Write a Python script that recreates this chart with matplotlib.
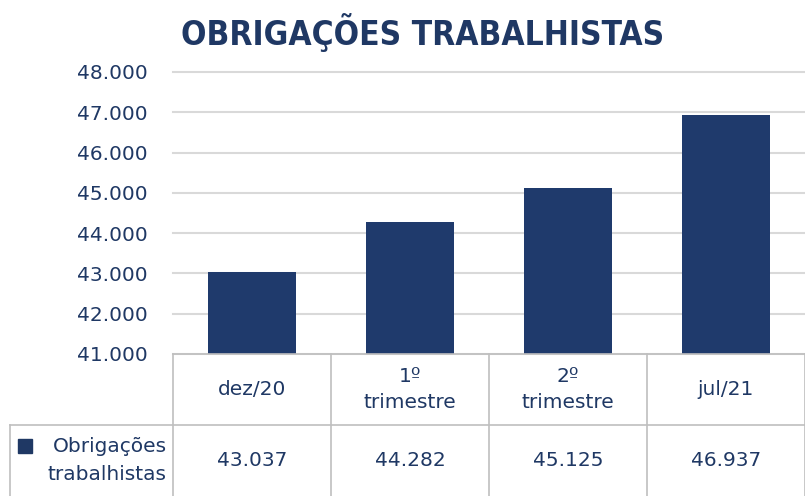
import matplotlib
matplotlib.use("Agg")
import matplotlib.pyplot as plt
from matplotlib.patches import Rectangle

# data
categories = ["dez/20", "1º\ntrimestre", "2º\ntrimestre", "jul/21"]
values = [43.037, 44.282, 45.125, 46.937]
value_labels = ["43.037", "44.282", "45.125", "46.937"]
series_name = "Obrigações\ntrabalhistas"
title = "OBRIGAÇÕES TRABALHISTAS"
yticks = [41, 42, 43, 44, 45, 46, 47, 48]

navy = "#1F3864"
bar_col = "#1F3A6C"
grid_col = "#D9D9D9"
border_col = "#BFBFBF"
fs = 14.5

W, H = 805, 496
fig = plt.figure(figsize=(W / 100, H / 100), dpi=100)

# main plot area (pixel coords converted to figure fractions)
x0, x1 = 173, 805
y_top, y_bot = 72, 354
ax = fig.add_axes([x0 / W, 1 - y_bot / H, (x1 - x0) / W, (y_bot - y_top) / H])
xs = list(range(len(categories)))
ax.bar(xs, values, width=0.56, color=bar_col, zorder=3)
ax.set_xlim(-0.5, len(categories) - 0.5)
ax.set_ylim(41, 48)
ax.set_yticks(yticks)
ax.set_yticklabels([f"{v}.000" for v in yticks], color=navy, fontsize=fs)
ax.tick_params(axis="y", length=0, pad=18)
ax.set_xticks([])
ax.grid(axis="y", color=grid_col, linewidth=1.5, zorder=0)
for gl in ax.get_ygridlines():
    gl.set_clip_on(False)
for s in ax.spines.values():
    s.set_visible(False)

fig.text(423 / W, 1 - 32 / H, title, ha="center", va="center",
         fontsize=24, fontweight="bold", fontstretch="condensed", color=navy,
         family="DejaVu Sans")

# data table below the plot
tax = fig.add_axes([x0 / W, 0, (x1 - x0) / W, (H - y_bot) / H])
tax.set_xlim(-0.5, len(categories) - 0.5)
tax.set_ylim(0, 2)
tax.axis("off")
col_w = (x1 - x0) / len(categories)
left_edge = -0.5 - (x0 - 10) / col_w
lk = dict(color=border_col, linewidth=1.2, clip_on=False)
tax.plot([-0.5, len(categories) - 0.5], [2, 2], **lk)
tax.plot([left_edge, len(categories) - 0.5], [1, 1], **lk)
tax.plot([left_edge, left_edge], [0, 1], **lk)
for i in range(len(categories) + 1):
    tax.plot([i - 0.5, i - 0.5], [0, 2], **lk)

for i, (c, v) in enumerate(zip(categories, value_labels)):
    tax.text(i, 1.5, c, ha="center", va="center", fontsize=fs, color=navy,
             linespacing=1.5)
    tax.text(i, 0.5, v, ha="center", va="center", fontsize=fs, color=navy)

tax.add_patch(Rectangle((left_edge + 0.05, 0.6), 0.09, 0.2, color=navy,
                        clip_on=False))
tax.text(-0.54, 0.5, series_name, ha="right", va="center", fontsize=fs,
         color=navy, linespacing=1.6)

fig.savefig("out.png", dpi=100)
